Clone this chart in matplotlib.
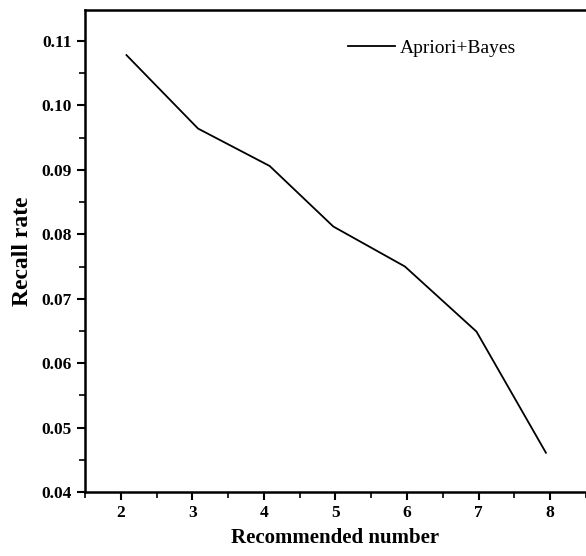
import matplotlib.pyplot as plt
from matplotlib.ticker import MultipleLocator

# values
recommended = [2.08, 3.08, 4.08, 4.97, 5.97, 6.97, 7.94]
recall = [0.1078, 0.0964, 0.0906, 0.0812, 0.0750, 0.0649, 0.0461]
series_name = 'Apriori+Bayes'

plt.rcParams['font.family'] = ['Liberation Serif', 'DejaVu Serif']

fig = plt.figure(figsize=(5.86, 5.56), dpi=100)
ax = fig.add_axes([0.145, 0.115, 0.855, 0.867])

ax.plot(recommended, recall, color='black', linewidth=1.3, label=series_name)

ax.set_xlim(1.5, 8.5)
ax.set_ylim(0.04, 0.1148)
ax.xaxis.set_major_locator(MultipleLocator(1))
ax.xaxis.set_minor_locator(MultipleLocator(0.5))
ax.yaxis.set_major_locator(MultipleLocator(0.01))
ax.yaxis.set_minor_locator(MultipleLocator(0.005))
ax.yaxis.set_major_formatter(plt.FormatStrFormatter('%.2f'))

ax.tick_params(which='major', direction='out', length=6, width=1.5, labelsize=12.5)
ax.tick_params(which='minor', direction='out', length=4, width=1.2)
for lab in ax.get_xticklabels() + ax.get_yticklabels():
    lab.set_fontweight('bold')

for side in ['left', 'bottom', 'top']:
    ax.spines[side].set_linewidth(1.8)
ax.spines['right'].set_visible(False)

ax.set_xlabel('Recommended number', fontsize=15, fontweight='bold', labelpad=5)
ax.set_ylabel('Recall rate', fontsize=17, fontweight='bold', labelpad=6)

ax.legend(loc='upper right', bbox_to_anchor=(0.895, 0.975), frameon=False,
          fontsize=14, handlelength=2.4, handletextpad=0.25)

fig.savefig('out.png', dpi=100)
